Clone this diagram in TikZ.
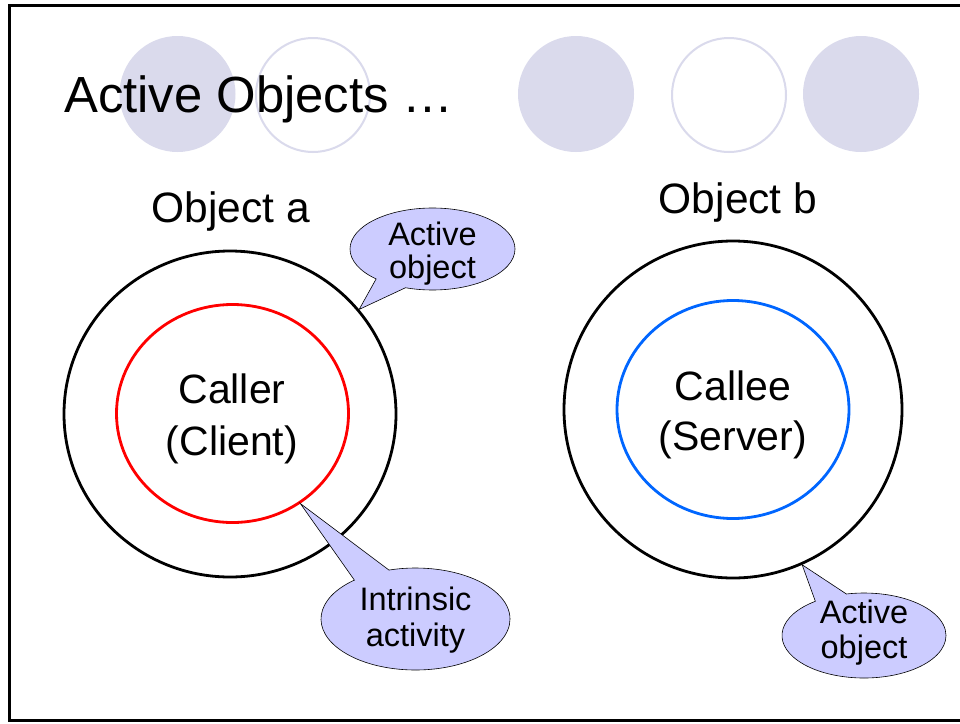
\documentclass[tikz,border=0pt]{standalone}
\usepackage{fontspec}
\setmainfont{Liberation Sans}
\usetikzlibrary{shapes.geometric,shapes.callouts}
\definecolor{deco}{RGB}{218,218,236}
\definecolor{bubblefill}{RGB}{204,204,255}
\definecolor{callerred}{RGB}{255,0,0}
\definecolor{calleeblue}{RGB}{0,102,255}
\newcommand{\twoline}[2]{\begin{tabular}[t]{@{}c@{}}#1\\#2\end{tabular}}
\begin{document}
\begin{tikzpicture}[x=1pt,y=-1pt,
  decofill/.style={circle,fill=deco,minimum size=116pt,inner sep=0pt},
  decoring/.style={circle,draw=deco,line width=2pt,minimum size=114pt,inner sep=0pt},
  outerobj/.style={ellipse,draw=black,line width=2.8pt,inner sep=0pt},
  innerobj/.style={ellipse,line width=2.8pt,inner sep=0pt,minimum width=232pt,minimum height=218pt},
  bubble/.style={ellipse callout,draw=black,line width=0.6pt,fill=bubblefill,inner sep=0pt,callout pointer arc=24},
  txt/.style={anchor=base,inner sep=0pt,text=black},
  frame/.style={draw=black,line width=3pt}]
\useasboundingbox (0,0) rectangle (960,723);
\fill[white] (0,0) rectangle (960,723);
\begin{scope}
\clip (0,0) rectangle (960,723);
\draw[frame] (970,5) -- (9,5) -- (9,720) -- (970,720);
\end{scope}
% decorative circles
\node[decofill] (d1) at (177.5,94) {};
\node[decoring] (d2) at (313,95) {};
\node[decofill] (d3) at (576,94) {};
\node[decoring] (d4) at (729,95) {};
\node[decofill] (d5) at (861,94) {};
% title
\node[anchor=base west,inner sep=0pt,font=\fontsize{50.8}{60}\selectfont] (title) at (64,112) {Active Objects …};
% object labels
\node[txt,font=\fontsize{42.5}{50}\selectfont] (labA) at (231,222) {Object a};
\node[txt,font=\fontsize{42.5}{50}\selectfont] (labB) at (738,213) {Object b};
% objects
\node[outerobj,minimum width=332pt,minimum height=326pt] (outA) at (230,414) {};
\node[innerobj,draw=callerred] (inA) at (232.5,413.5) {};
\node[outerobj,minimum width=338pt,minimum height=337pt] (outB) at (733,409.5) {};
\node[innerobj,draw=calleeblue] (inB) at (733,409.5) {};
\node[txt,font=\fontsize{41}{52}\selectfont] (caller) at (232,403) {\twoline{Caller}{(Client)}};
\node[txt,font=\fontsize{41}{50}\selectfont] (callee) at (733,400) {\twoline{Callee}{(Server)}};
% callouts
\node[bubble,minimum width=165pt,minimum height=82pt,callout absolute pointer={(outA.39)}] (b1) at (432.5,249) {};
\node[txt,font=\fontsize{32.5}{33}\selectfont] (b1t) at (432.5,245) {\twoline{Active}{object}};
\node[bubble,minimum width=189pt,minimum height=102pt,callout absolute pointer={(inA.-53)}] (b2) at (415.5,619) {};
\node[txt,font=\fontsize{32.5}{36}\selectfont] (b2t) at (415.5,610) {\twoline{Intrinsic}{activity}};
\node[bubble,minimum width=164pt,minimum height=85pt,callout absolute pointer={(outB.-66)}] (b3) at (864,635.5) {};
\node[txt,font=\fontsize{32.5}{35}\selectfont] (b3t) at (864,623) {\twoline{Active}{object}};
\end{tikzpicture}
\end{document}
